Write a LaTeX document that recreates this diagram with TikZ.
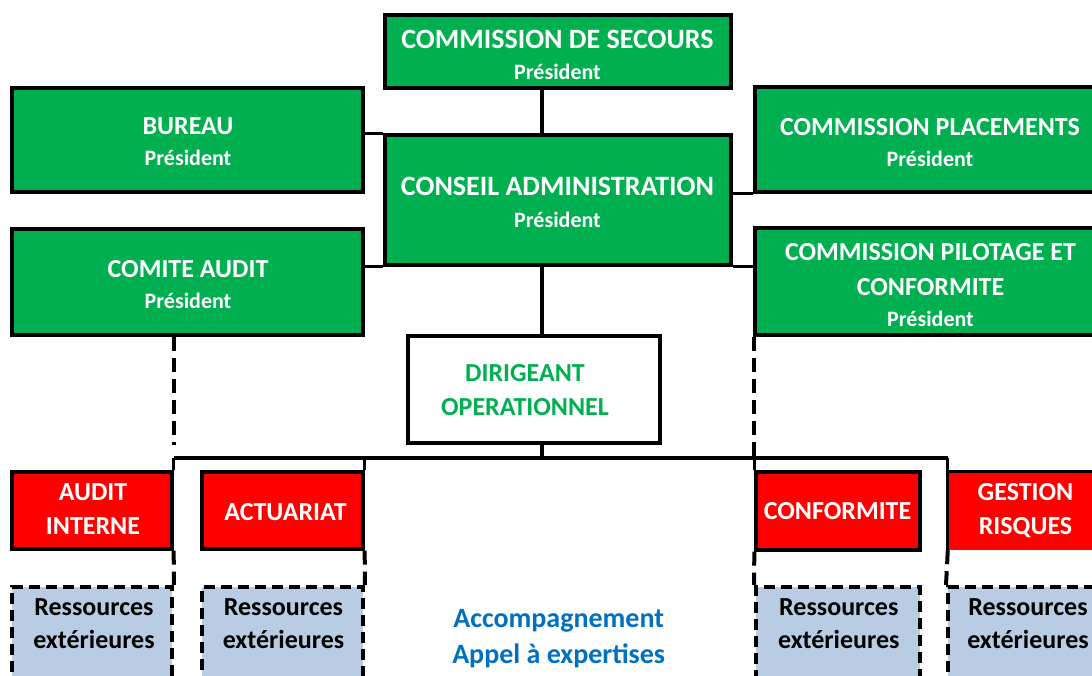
\documentclass[tikz,border=0pt]{standalone}
\usepackage{fontspec}
\setmainfont{Carlito}
\definecolor{xgreen}{HTML}{00B050}
\definecolor{xred}{HTML}{FF0000}
\definecolor{xlblue}{HTML}{B8CCE4}
\definecolor{xblue}{HTML}{0070C0}
\newcommand{\pres}{{\fontsize{22}{26}\selectfont Président}}
\tikzset{
  conn/.style={line width=3.3pt, draw=black},
  dconn/.style={line width=4pt, draw=black, dash pattern=on 14pt off 7pt},
  gbox/.style={rectangle, draw=black, line width=3.3pt, fill=xgreen, inner sep=0pt},
  rbox/.style={rectangle, draw=black, line width=3.3pt, fill=xred, inner sep=0pt},
  wbox/.style={rectangle, draw=black, line width=3.3pt, fill=white, inner sep=0pt},
  resbox/.style={rectangle, draw=black, line width=4pt, dash pattern=on 11pt off 6pt, fill=xlblue, inner sep=0pt},
  wtxt/.style={align=center, inner sep=0pt, text=white, font=\bfseries\fontsize{26}{31}\selectfont},
  rtxt/.style={align=center, inner sep=0pt, text=white, font=\bfseries\fontsize{26}{34}\selectfont},
  ktxt/.style={align=center, inner sep=0pt, text=black, font=\bfseries\fontsize{26}{33}\selectfont},
}
\begin{document}
\begin{tikzpicture}[x=1pt, y=-1pt]
\useasboundingbox (0,0) rectangle (1092,675);
% green boxes
\node[gbox, minimum width=346pt, minimum height=73pt] (secours) at (558,51.5) {};
\node[gbox, minimum width=346pt, minimum height=130pt] (conseil) at (558,200) {};
\node[gbox, minimum width=351pt, minimum height=104pt] (bureau) at (187.5,140) {};
\node[gbox, minimum width=351pt, minimum height=106pt] (comite) at (187.5,282) {};
\node[gbox, minimum width=351pt, minimum height=105pt] (placements) at (930.5,139.5) {};
\node[gbox, minimum width=351pt, minimum height=107pt] (pilotage) at (930.5,281.5) {};
\node[wbox, minimum width=252pt, minimum height=107pt] (dirigeant) at (534,389.5) {};
% red boxes
\node[rbox, minimum width=160pt, minimum height=77pt] (audit) at (92,510.5) {};
\node[rbox, minimum width=161pt, minimum height=77pt] (actuariat) at (282.5,510.5) {};
\node[rbox, minimum width=164pt, minimum height=78pt] (conformite) at (838,511) {};
\node[rectangle, fill=xred, inner sep=0pt, minimum width=160pt, minimum height=78pt] (gestion) at (1028,511) {};
% resources
\node[resbox, minimum width=160pt, minimum height=116pt] (res1) at (92,645) {};
\node[resbox, minimum width=161pt, minimum height=116pt] (res2) at (282.5,645) {};
\node[resbox, minimum width=164pt, minimum height=116pt] (res3) at (838,645) {};
\node[resbox, minimum width=160pt, minimum height=116pt] (res4) at (1028,645) {};
% connectors
\coordinate (trunk) at (542,0);
\coordinate (bus) at (0,458);
\draw[conn] (secours.south -| trunk) -- (conseil.north -| trunk);
\draw[conn] (conseil.south -| trunk) -- (dirigeant.north -| trunk);
\draw[conn] (dirigeant.south -| trunk) -- (bus -| trunk);
\draw[conn] (bureau.east |- conseil.north) -- (conseil.north west);
\draw[conn] (comite.east |- conseil.south) -- (conseil.south west);
\draw[conn] (conseil.south east) -- (pilotage.west |- conseil.south);
\draw[conn] (conseil.east |- placements.south) -- (placements.south west);
\draw[conn] (bus -| audit.east) -- (bus -| gestion.west);
\draw[conn] (bus -| audit.east) -- (audit.north east);
\draw[conn] (bus -| actuariat.east) -- (actuariat.north east);
\draw[conn] (bus -| conformite.west) -- (conformite.north west);
\draw[conn] (bus -| gestion.west) -- (gestion.south west);
\draw[conn] (gestion.north west) -- (gestion.north east);
\draw[dconn] (comite.south -| audit.east) -- (dirigeant.south -| audit.east);
\draw[dconn] (pilotage.south -| conformite.west) -- (bus -| conformite.west);
\draw[dconn] (audit.south east) -- (res1.north east);
\draw[dconn] (actuariat.south east) -- (res2.north east);
\draw[dconn] (conformite.south west) -- (res3.north west);
\draw[dconn] (gestion.south west) -- (res4.north west);
% texts
\node[wtxt, font=\bfseries\fontsize{28}{31}\selectfont] (t-secours) at (557.5,55.3) {COMMISSION DE SECOURS\\\pres};
\node[wtxt, font=\bfseries\fontsize{28}{32}\selectfont] (t-conseil) at (557.5,202.5) {CONSEIL ADMINISTRATION\\\pres};
\node[wtxt] (t-bureau) at (188,142) {BUREAU\\\pres};
\node[wtxt] (t-comite) at (188,284.7) {COMITE AUDIT\\\pres};
\node[wtxt] (t-placements) at (930,142.2) {COMMISSION PLACEMENTS\\\pres};
\node[wtxt] (t-pilotage) at (930.5,285) {COMMISSION PILOTAGE ET\\[4pt]CONFORMITE\\\pres};
\node[wtxt, text=xgreen, font=\bfseries\fontsize{26}{34}\selectfont] (t-dirigeant) at (525,390.5) {DIRIGEANT\\OPERATIONNEL};
\node[rtxt] (t-audit) at (93,509) {AUDIT\\INTERNE};
\node[rtxt] (t-actuariat) at (285.5,511.7) {ACTUARIAT};
\node[rtxt] (t-conformite) at (837.5,511.2) {CONFORMITE};
\node[rtxt] (t-gestion) at (1025.5,510.5) {GESTION\\RISQUES};
\node[ktxt] (t-res1) at (94,623.8) {Ressources\\extérieures};
\node[ktxt] (t-res2) at (283.5,623.8) {Ressources\\extérieures};
\node[ktxt] (t-res3) at (838.8,623.8) {Ressources\\extérieures};
\node[ktxt] (t-res4) at (1028,623.8) {Ressources\\extérieures};
\node[align=center, inner sep=0pt, text=xblue, font=\bfseries\fontsize{28}{36}\selectfont] (t-accomp) at (558.7,638.3) {Accompagnement\\Appel à expertises};
\end{tikzpicture}
\end{document}
